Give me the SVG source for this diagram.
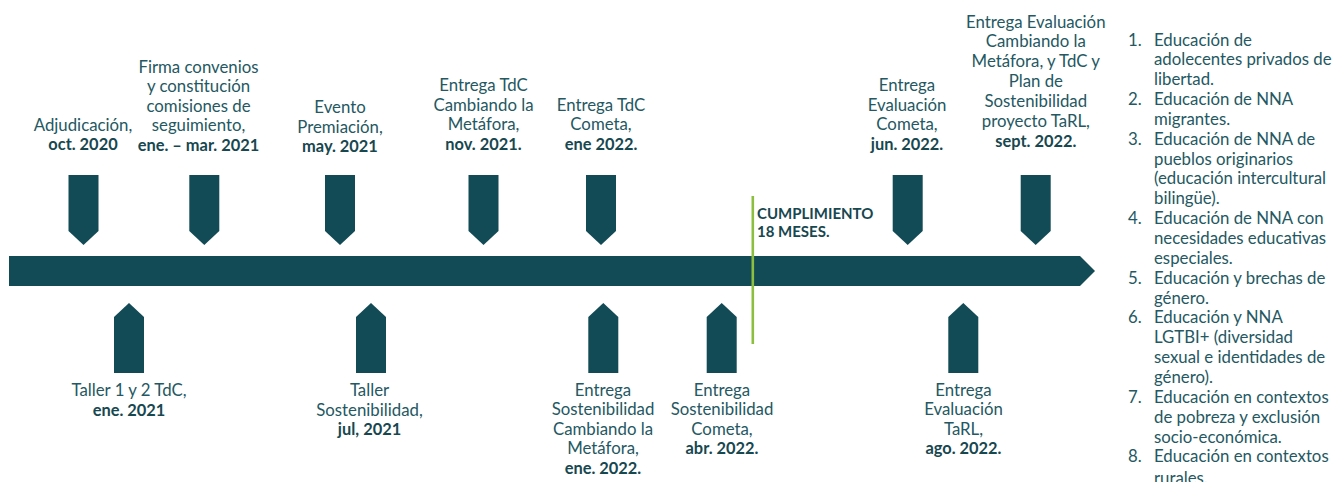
<svg xmlns="http://www.w3.org/2000/svg" width="1337" height="482" viewBox="0 0 1337 482">
<style>
text{font-family:Lato,"Noto Sans","Liberation Sans",sans-serif;font-size:16.8px;fill:#245862}
.c{text-anchor:middle}
.b{font-weight:bold;font-size:16.4px;fill:#17474f}
.g{font-size:15px;font-weight:bold;fill:#17474f}
</style>
<defs>
<polygon id="down" points="-15,0 15,0 15,56 0,70 -15,56" fill="#124b55"/>
<polygon id="up" points="0,0 15,14 15,70 -15,70 -15,14" fill="#124b55"/>
</defs>
<g id="connectors">
<polygon id="timeline" points="9,256 1080,256 1095,271 1080,286 9,286" fill="#124b55"/>
<rect id="milestone-line" x="751.5" y="196" width="2.6" height="148" fill="#8cbf3f"/>
</g>
<g id="n-adjudicacion">
<use href="#down" x="83.5" y="175"/>
<text class="c" x="83" y="130.5">Adjudicación,</text>
<text class="c b" x="83" y="150">oct. 2020</text>
</g>
<g id="n-firma">
<use href="#down" x="204.3" y="175"/>
<text class="c" x="198.5"><tspan x="198.5" y="72.5">Firma convenios</tspan><tspan x="198.5" y="92">y constitución</tspan><tspan x="198.5" y="111.5">comisiones de</tspan><tspan x="198.5" y="131">seguimiento,</tspan></text>
<text class="c b" x="198.5" y="150.5">ene. – mar. 2021</text>
</g>
<g id="n-evento">
<use href="#down" x="340" y="175"/>
<text class="c" x="340"><tspan x="340" y="113">Evento</tspan><tspan x="340" y="132.5">Premiación,</tspan></text>
<text class="c b" x="340" y="152">may. 2021</text>
</g>
<g id="n-tdc-cm">
<use href="#down" x="483.5" y="175"/>
<text class="c" x="483.5"><tspan x="483.5" y="91">Entrega TdC</tspan><tspan x="483.5" y="110.5">Cambiando la</tspan><tspan x="483.5" y="130">Metáfora,</tspan></text>
<text class="c b" x="483.5" y="150">nov. 2021.</text>
</g>
<g id="n-tdc-cometa">
<use href="#down" x="601" y="175"/>
<text class="c" x="601"><tspan x="601" y="110.5">Entrega TdC</tspan><tspan x="601" y="130">Cometa,</tspan></text>
<text class="c b" x="601" y="150">ene 2022.</text>
</g>
<g id="n-eval-cometa">
<use href="#down" x="907.7" y="175"/>
<text class="c" x="907"><tspan x="907" y="91">Entrega</tspan><tspan x="907" y="110.5">Evaluación</tspan><tspan x="907" y="130">Cometa,</tspan></text>
<text class="c b" x="907" y="149.5">jun. 2022.</text>
</g>
<g id="n-eval-cm">
<use href="#down" x="1035.7" y="175"/>
<text class="c" x="1035.8"><tspan x="1035.8" y="27.5">Entrega Evaluación</tspan><tspan x="1035.8" y="47.4">Cambiando la</tspan><tspan x="1035.8" y="67.3">Metáfora, y TdC y</tspan><tspan x="1035.8" y="87.2">Plan de</tspan><tspan x="1035.8" y="107.1">Sostenibilidad</tspan><tspan x="1035.8" y="127">proyecto TaRL,</tspan></text>
<text class="c b" x="1035.8" y="146.9">sept. 2022.</text>
</g>
<g id="n-taller12">
<use href="#up" x="129" y="303"/>
<text class="c" x="129" y="396">Taller 1 y 2 TdC,</text>
<text class="c b" x="129" y="415.5">ene. 2021</text>
</g>
<g id="n-taller-sost">
<use href="#up" x="371" y="303"/>
<text class="c" x="369.5"><tspan x="369.5" y="396">Taller</tspan><tspan x="369.5" y="415.5">Sostenibilidad,</tspan></text>
<text class="c b" x="369.5" y="435">jul, 2021</text>
</g>
<g id="n-sost-cm">
<use href="#up" x="603.3" y="303"/>
<text class="c" x="603"><tspan x="603" y="395.5">Entrega</tspan><tspan x="603" y="415">Sostenibilidad</tspan><tspan x="603" y="434.5">Cambiando la</tspan><tspan x="603" y="454">Metáfora,</tspan></text>
<text class="c b" x="603" y="473.5">ene. 2022.</text>
</g>
<g id="n-sost-cometa">
<use href="#up" x="721.7" y="303"/>
<text class="c" x="722"><tspan x="722" y="395.5">Entrega</tspan><tspan x="722" y="415">Sostenibilidad</tspan><tspan x="722" y="434.5">Cometa,</tspan></text>
<text class="c b" x="722" y="454">abr. 2022.</text>
</g>
<g id="n-eval-tarl">
<use href="#up" x="963.3" y="303"/>
<text class="c" x="963.5"><tspan x="963.5" y="395.5">Entrega</tspan><tspan x="963.5" y="415">Evaluación</tspan><tspan x="963.5" y="434.5">TaRL,</tspan></text>
<text class="c b" x="963.5" y="454">ago. 2022.</text>
</g>
<g id="n-cumplimiento">
<text class="g" x="757"><tspan x="757" y="219.3">CUMPLIMIENTO</tspan><tspan x="757" y="236.8">18 MESES.</tspan></text>
</g>
<g id="list">
<text x="1128"><tspan x="1128" y="45.5">1.</tspan><tspan x="1128" y="105.05">2.</tspan><tspan x="1128" y="144.75">3.</tspan><tspan x="1128" y="224.15">4.</tspan><tspan x="1128" y="283.7">5.</tspan><tspan x="1128" y="323.4">6.</tspan><tspan x="1128" y="402.8">7.</tspan><tspan x="1128" y="462.35">8.</tspan></text>
<text x="1154"><tspan x="1154" y="45.5">Educación de</tspan><tspan x="1154" y="65.35">adolecentes privados de</tspan><tspan x="1154" y="85.2">libertad.</tspan><tspan x="1154" y="105.05">Educación de NNA</tspan><tspan x="1154" y="124.9">migrantes.</tspan><tspan x="1154" y="144.75">Educación de NNA de</tspan><tspan x="1154" y="164.6">pueblos originarios</tspan><tspan x="1154" y="184.45">(educación intercultural</tspan><tspan x="1154" y="204.3">bilingüe).</tspan><tspan x="1154" y="224.15">Educación de NNA con</tspan><tspan x="1154" y="244">necesidades educativas</tspan><tspan x="1154" y="263.85">especiales.</tspan><tspan x="1154" y="283.7">Educación y brechas de</tspan><tspan x="1154" y="303.55">género.</tspan><tspan x="1154" y="323.4">Educación y NNA</tspan><tspan x="1154" y="343.25">LGTBI+ (diversidad</tspan><tspan x="1154" y="363.1">sexual e identidades de</tspan><tspan x="1154" y="382.95">género).</tspan><tspan x="1154" y="402.8">Educación en contextos</tspan><tspan x="1154" y="422.65">de pobreza y exclusión</tspan><tspan x="1154" y="442.5">socio-económica.</tspan><tspan x="1154" y="462.35">Educación en contextos</tspan><tspan x="1154" y="483.5">rurales.</tspan></text>
</g>
</svg>
